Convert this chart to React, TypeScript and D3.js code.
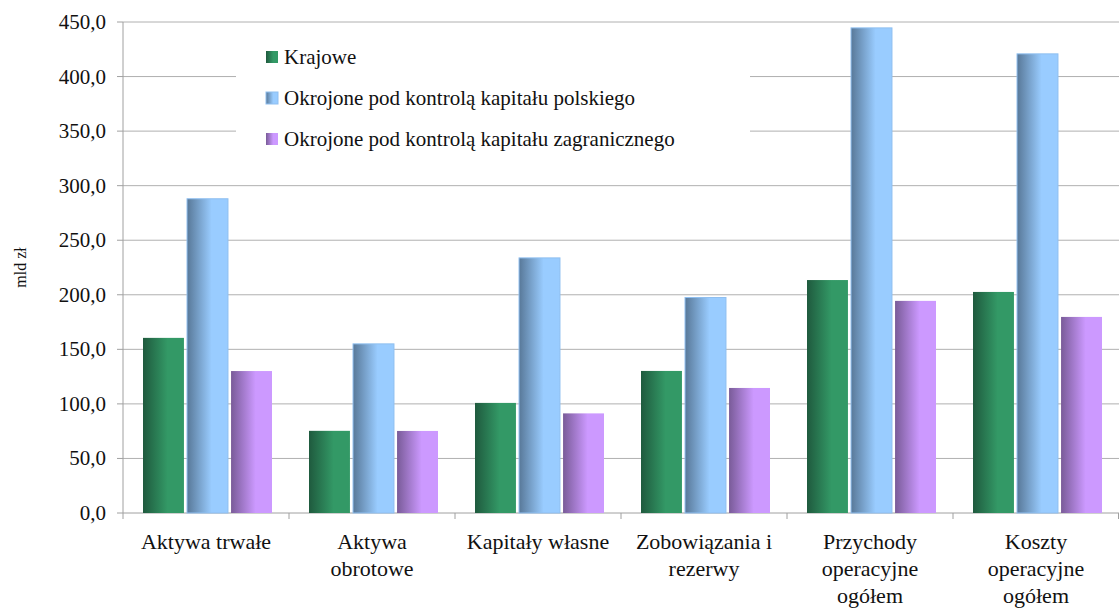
import React from 'react';
import * as d3 from 'd3';

const categories = [
  ['Aktywa trwałe'],
  ['Aktywa', 'obrotowe'],
  ['Kapitały własne'],
  ['Zobowiązania i', 'rezerwy'],
  ['Przychody', 'operacyjne', 'ogółem'],
  ['Koszty', 'operacyjne', 'ogółem'],
];
const seriesNames = [
  'Krajowe',
  'Okrojone pod kontrolą kapitału polskiego',
  'Okrojone pod kontrolą kapitału zagranicznego',
];
const krajowe = [160.5, 75.3, 100.9, 130.2, 213.5, 202.6];
const polskie = [288.0, 155.0, 233.8, 197.5, 444.6, 420.8];
const zagraniczne = [130.1, 75.2, 91.3, 114.6, 194.4, 179.7];
const yTicks = [0, 50, 100, 150, 200, 250, 300, 350, 400, 450];

const seriesValues = [krajowe, polskie, zagraniczne];
const grads = [
  { id: 'gGreen', dark: '#1f5a3e', light: '#339966', stroke: 'none' },
  { id: 'gBlue', dark: '#587898', light: '#99ccff', stroke: '#8fbff0' },
  { id: 'gPurple', dark: '#795b98', light: '#cc99ff', stroke: 'none' },
];

const serif = { fontFamily: 'Liberation Serif' };

const App: React.FC = () => {
  const width = 1119, height = 608;
  const left = 123, right = 1119, top = 22, bottom = 513;

  const y = d3.scaleLinear().domain([0, 450]).range([bottom, top]);
  const x = d3.scaleBand<number>().domain(categories.map((_, i) => i)).range([left, right]);
  const inner = d3.scaleBand<number>().domain([0, 1, 2]).range([20, x.bandwidth() - 17]).paddingInner(0.07);
  const fmt = (v: number) => d3.format('.1f')(v).replace('.', ',');

  // white legend box cuts the gridlines behind it
  const legX = 236, legY = 36, legW = 514, legH = 128;

  return (
    <svg width={width} height={height} style={{ position: 'absolute', left: 0, top: 0, background: '#fff' }}>
      <defs>
        {grads.map(g => (
          <linearGradient key={g.id} id={g.id} x1="0" x2="1" y1="0" y2="0">
            <stop offset="0" stopColor={g.dark} />
            <stop offset="0.6" stopColor={g.light} />
            <stop offset="1" stopColor={g.light} />
          </linearGradient>
        ))}
      </defs>

      {yTicks.map(t => (
        <g key={t}>
          {t > 0 && <line x1={left} x2={right} y1={y(t)} y2={y(t)} stroke="#b0b0b0" strokeWidth={1} />}
          <line x1={left - 6} x2={left} y1={y(t)} y2={y(t)} stroke="#a0a0a0" />
          <text x={left - 17} y={y(t) + 7} textAnchor="end" fontSize={21} fill="#111" style={serif}>{fmt(t)}</text>
        </g>
      ))}

      <rect x={legX} y={legY} width={legW} height={legH} fill="#fff" />

      <line x1={left} x2={left} y1={top} y2={bottom} stroke="#a0a0a0" />
      <line x1={left} x2={right} y1={bottom} y2={bottom} stroke="#a0a0a0" />
      {d3.range(categories.length + 1).map(i => {
        const xx = i < categories.length ? (x(i) as number) : right - 0.5;
        return <line key={i} x1={xx} x2={xx} y1={bottom} y2={bottom + 6} stroke="#a0a0a0" />;
      })}

      {seriesValues.map((vals, s) => (
        <g key={s}>
          {vals.map((v, i) => (
            <rect key={i}
              x={(x(i) as number) + (inner(s) as number)}
              y={y(v)}
              width={inner.bandwidth()}
              height={bottom - y(v)}
              fill={`url(#${grads[s].id})`}
              stroke={grads[s].stroke}
              strokeWidth={1} />
          ))}
        </g>
      ))}

      {categories.map((lines, i) =>
        lines.map((l, j) => (
          <text key={`${i}-${j}`} x={(x(i) as number) + x.bandwidth() / 2} y={549 + j * 27}
            textAnchor="middle" fontSize={22} fill="#111" style={serif}>{l}</text>
        ))
      )}

      {seriesNames.map((n, s) => (
        <g key={n}>
          <rect x={266} y={51 + s * 41} width={12} height={12} fill={`url(#${grads[s].id})`} stroke={grads[s].stroke} />
          <text x={284} y={64 + s * 41} fontSize={21} fill="#111" style={serif}>{n}</text>
        </g>
      ))}

      <text transform={`translate(26, ${(top + bottom) / 2}) rotate(-90)`} textAnchor="middle" fontSize={16} fill="#111" style={serif}>mld zł</text>
    </svg>
  );
};

export default App;
